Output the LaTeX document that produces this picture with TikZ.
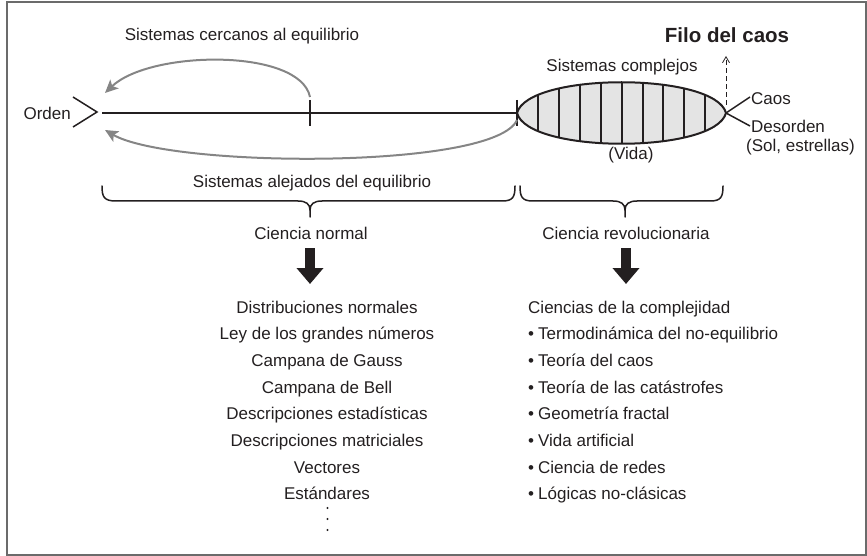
\documentclass[tikz,border=0pt]{standalone}
\usepackage{fontspec}
\setmainfont{Liberation Sans}
\usetikzlibrary{arrows.meta,calc}
\definecolor{txt}{HTML}{231F20}
\definecolor{garr}{HTML}{858585}
\definecolor{frm}{HTML}{6B6B6B}
\definecolor{lensfill}{HTML}{E4E4E4}
\begin{document}
\begin{tikzpicture}[x=1pt,y=-1pt,
  lbl/.style={text=txt,font=\fontsize{17}{20}\selectfont,inner sep=0pt,anchor=base},
  lblw/.style={lbl,anchor=base west},
  boldlbl/.style={text=txt,font=\bfseries\fontsize{20.5}{24}\selectfont,inner sep=0pt,anchor=base},
  blk/.style={draw=txt,line width=1.5pt},
  lensline/.style={draw=txt,line width=2pt},
  garrow/.style={draw=garr,line width=2pt,-{Stealth[length=13pt,width=12pt,inset=3pt]},fill=none},
  dasharrow/.style={draw=txt,line width=0.8pt,dash pattern=on 5pt off 3pt,-{Straight Barb[length=6pt,width=7pt]}},
  bigarrow/.style={draw=txt,line width=10pt,-{Triangle[length=16pt,width=26pt]}},
  bracestyle/.style={draw=txt,line width=1.5pt,line cap=round}
]
\useasboundingbox (0,0) rectangle (867,556);
\draw[frm,line width=2pt] (7,2) rectangle (866,555);

% main axis
\node[lbl,anchor=base east] (orden) at (71,120) {Orden};
\coordinate (chevT) at (73,97);
\coordinate (chevM) at (97,112);
\coordinate (chevB) at (73,127);
\draw[blk] (chevT) -- (chevM) -- (chevB);
\coordinate (A0) at (102,113);
\coordinate (L) at (517,113);
\coordinate (R) at (726,113);
\draw[blk] (A0) -- (L);
\coordinate (tk1) at (310,100);
\coordinate (tk2) at (310,126);
\draw[blk] (tk1) -- (tk2);

% lens
\path[fill=lensfill] (L) .. controls (528,72) and (715,72) .. (R) .. controls (715,154) and (528,154) .. (L);
\begin{scope}
\clip (L) .. controls (528,72) and (715,72) .. (R) .. controls (715,154) and (528,154) .. (L);
\foreach \x in {538,559,580,601,622,643,663,684,705}
  \draw[draw=txt,line width=1.3pt] (\x,70) -- (\x,160);
\end{scope}
\draw[lensline] (L) .. controls (528,72) and (715,72) .. (R) .. controls (715,154) and (528,154) .. (L);
\coordinate (tk3) at (517,100);
\coordinate (tk4) at (517,126);
\draw[blk] (tk3) -- (tk4);

% right end
\node[lblw] (caos) at (751,105) {Caos};
\node[lblw] (desorden) at (751,133) {Desorden};
\node[lblw] (sol) at (746,152) {(Sol, estrellas)};
\coordinate (caosE) at (750,97);
\coordinate (desE) at (750,126);
\draw[blk] (R) -- (caosE);
\draw[blk] (R) -- (desE);

% labels
\node[boldlbl] (filo) at (727,43) {Filo del caos};
\coordinate (dA) at (726,105);
\coordinate (dB) at (726,56);
\draw[dasharrow] (dA) -- (dB);
\node[lbl] (complejos) at (622,72) {Sistemas complejos};
\node[lbl] (vida) at (631,160) {(Vida)};
\node[lbl] (cercanos) at (242,41) {Sistemas cercanos al equilibrio};
\node[lbl] (alejados) at (312,188) {Sistemas alejados del equilibrio};

% gray arrows
\coordinate (g1s) at (310,97);
\coordinate (g1e) at (105,93);
\draw[garrow] (g1s) .. controls (300,48) and (150,50) .. (g1e);
\coordinate (g2s) at (517,120);
\coordinate (g2e) at (105,130);
\draw[garrow] (g2s) .. controls (495,170) and (170,168) .. (g2e);

% braces
\draw[bracestyle] (102,186) .. controls (102,197) and (104,201) .. (116,201) -- (298,201)
  .. controls (306,201) and (310,204) .. (310,210) -- (310,217);
\draw[bracestyle] (310,210) .. controls (310,204) and (314,201) .. (322,201) -- (502,201)
  .. controls (513,201) and (515,197) .. (515,186);
\draw[bracestyle] (520,186) .. controls (520,197) and (522,201) .. (533,201) -- (613,201)
  .. controls (621,201) and (625,204) .. (625,210) -- (625,217);
\draw[bracestyle] (625,210) .. controls (625,204) and (629,201) .. (637,201) -- (710,201)
  .. controls (721,201) and (723,197) .. (723,186);

\node[lbl] (cnormal) at (311,240) {Ciencia normal};
\node[lbl] (crev) at (626,240) {Ciencia revolucionaria};
\coordinate (a1s) at (310,248);
\coordinate (a1e) at (310,284);
\coordinate (a2s) at (626,248);
\coordinate (a2e) at (626,284);
\draw[bigarrow] (a1s) -- (a1e);
\draw[bigarrow] (a2s) -- (a2e);

% left list
\foreach \t [count=\i from 0] in {Distribuciones normales,Ley de los grandes números,Campana de Gauss,Campana de Bell,Descripciones estadísticas,Descripciones matriciales,Vectores,Estándares}
  \node[lbl] (ll\i) at (327,313+26.7*\i) {\t};
\foreach \yy [count=\i] in {508,519,530}
  \fill[txt] (327.5,\yy) circle (1.1pt);

% right list
\node[lblw] (rl0) at (528,313) {Ciencias de la complejidad};
\foreach \t [count=\i] in {Termodinámica del no-equilibrio,Teoría del caos,Teoría de las catástrofes,Geometría fractal,Vida artificial,Ciencia de redes,Lógicas no-clásicas}
  \node[lblw] (rl\i) at (528,313+26.7*\i) {•\hspace{4pt}\t};
\end{tikzpicture}
\end{document}
